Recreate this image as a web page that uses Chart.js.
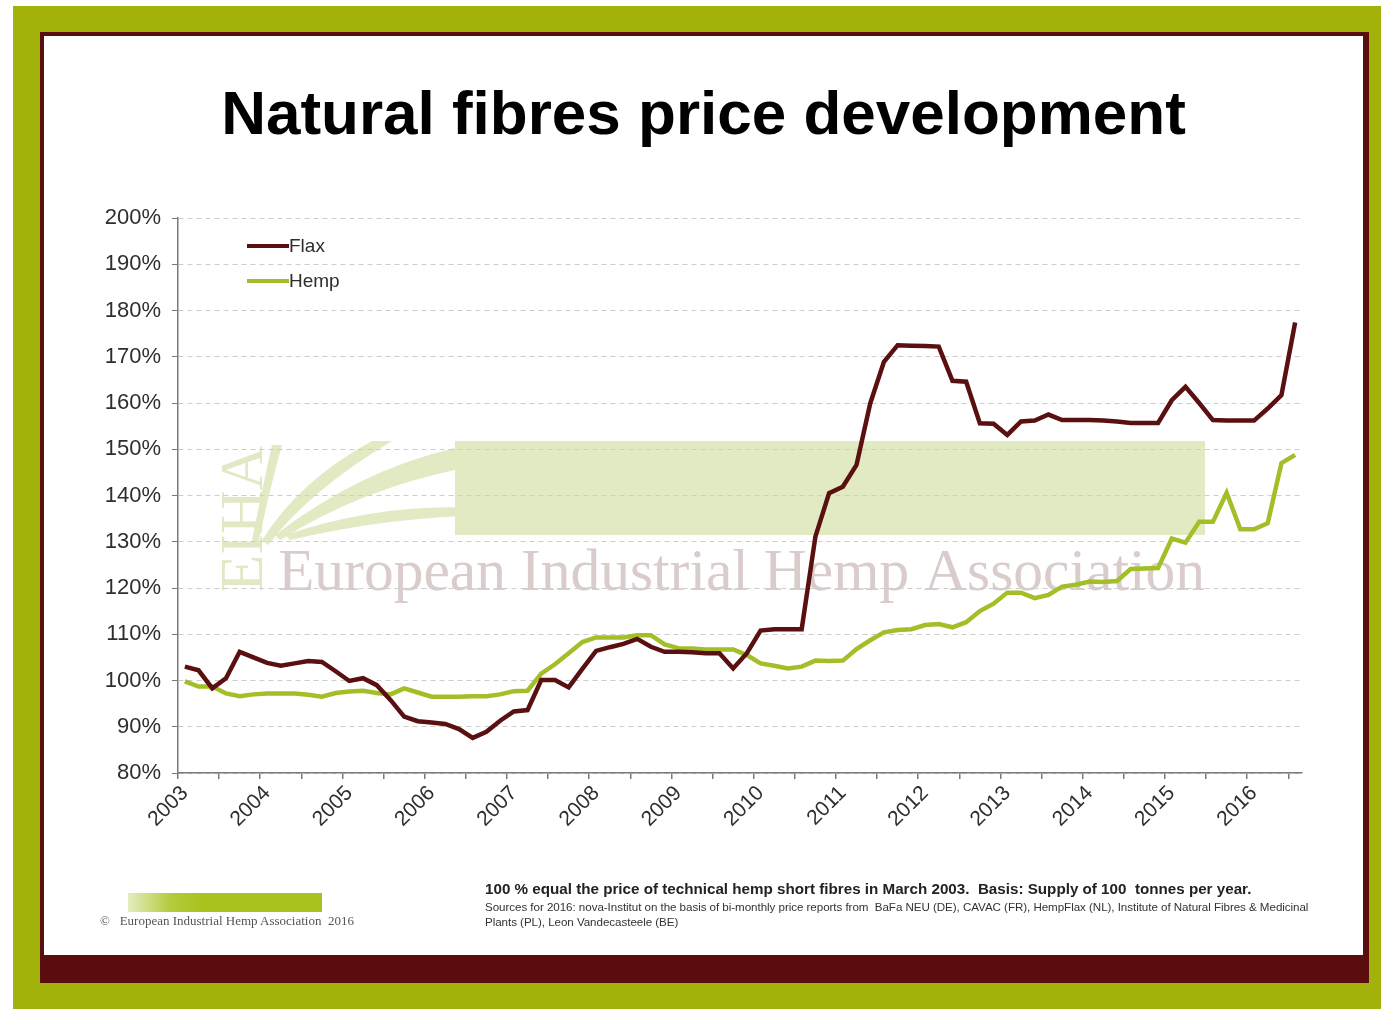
<!DOCTYPE html>
<html>
<head>
<meta charset="utf-8">
<title>Natural fibres price development</title>
<script src="https://cdn.jsdelivr.net/npm/chart.js@4/dist/chart.umd.min.js"></script>
<style>
  html, body { margin: 0; padding: 0; background: #ffffff; }
  body { width: 1381px; height: 1009px; position: relative; overflow: hidden; font-family: 'Liberation Sans', Arial, sans-serif; }
  .green { position: absolute; left: 13px; top: 6px; width: 1368px; height: 1003px; background: #a3b10b; }
  .frame { position: absolute; left: 40px; top: 32px; width: 1329px; height: 951px; background: #5b0c0c; }
  .panel { position: absolute; left: 44px; top: 36px; width: 1319px; height: 919px; background: #ffffff; }
  .title { position: absolute; left: 44px; width: 1319px; top: 77px; text-align: center; font-weight: bold; font-size: 62px; color: #000; }
  .note { position: absolute; left: 485px; top: 880px; color: #222; white-space: nowrap; }
  .note b { font-size: 15.2px; display: block; margin-bottom: 2px; }
  .note span { font-size: 11.6px; display: block; line-height: 15px; color: #333; letter-spacing: -0.05px; }
  .logo { position: absolute; left: 128px; top: 893px; width: 194px; height: 19px; background: linear-gradient(90deg, #e4edc0 0%, #b4cb3c 22%, #a9c21c 40%, #a9c21c 100%); }
  .logotext { position: absolute; left: 100px; top: 913px; font-family: 'Liberation Serif', serif; font-size: 13px; color: #555; white-space: nowrap; }
  canvas { position: absolute; left: 0; top: 0; }
</style>
</head>
<body>
<div class="green"></div>
<div class="frame"></div>
<div class="panel"></div>
<div class="title">Natural fibres price development</div>
<canvas id="chart" width="1381" height="1009"></canvas>
<div class="note">
  <b>100 % equal the price of technical hemp short fibres in March 2003.&nbsp; Basis: Supply of 100&nbsp; tonnes per year.</b>
  <span>Sources for 2016: nova-Institut on the basis of bi-monthly price reports from&nbsp; BaFa NEU (DE), CAVAC (FR), HempFlax (NL), Institute of Natural Fibres &amp; Medicinal<br>Plants (PL), Leon Vandecasteele (BE)</span>
</div>
<div class="logo"></div>
<div class="logotext">©&nbsp;&nbsp; European Industrial Hemp Association&nbsp; 2016</div>

<script>
// Year tick labels (one label every 6 bi-monthly periods)
const yearLabels = ['2003', '2004', '2005', '2006', '2007', '2008', '2009',
    '2010', '2011', '2012', '2013', '2014', '2015', '2016'];
const periodsPerYear = 6;

// Bi-monthly price index, % of hemp short fibre price in March 2003
const flaxValues = [
    103, 102.2, 98.3, 100.5, 106.2, 105, 103.8, 103.2, 103.7, 104.2,
    104, 102, 99.9, 100.5, 99, 95.8, 92.2, 91.2, 90.9, 90.6,
    89.5, 87.6, 88.9, 91.3, 93.3, 93.6, 100.1, 100.1, 98.5, 102.5,
    106.4, 107.2, 107.9, 109, 107.3, 106.2, 106.2, 106.1, 105.9, 105.9,
    102.6, 105.9, 110.8, 111.1, 111.1, 111.1, 131.1, 140.5, 141.9, 146.6,
    159.9, 168.9, 172.5, 172.4, 172.3, 172.2, 164.8, 164.6, 155.6, 155.5,
    153.1, 156, 156.2, 157.5, 156.3, 156.3, 156.3, 156.2, 156, 155.7,
    155.7, 155.7, 160.6, 163.5, 160, 156.3, 156.2, 156.2, 156.2, 158.8,
    161.7, 177.4
];
const hempValues = [
    99.8, 98.7, 98.7, 97.2, 96.6, 97, 97.2, 97.2, 97.2, 96.9,
    96.5, 97.3, 97.6, 97.8, 97.3, 97, 98.3, 97.4, 96.5, 96.5,
    96.5, 96.6, 96.6, 97, 97.7, 97.8, 101.5, 103.5, 105.9, 108.3,
    109.3, 109.3, 109.3, 109.8, 109.8, 107.8, 107, 106.9, 106.7, 106.7,
    106.7, 105.5, 103.7, 103.2, 102.6, 103, 104.3, 104.2, 104.3, 106.8,
    108.7, 110.4, 110.9, 111.1, 112, 112.2, 111.5, 112.6, 115, 116.6,
    119, 119, 117.8, 118.5, 120.3, 120.7, 121.4, 121.3, 121.5, 124.1,
    124.2, 124.3, 130.7, 129.8, 134.3, 134.3, 140.6, 132.7, 132.7, 134,
    147, 148.8
];

const Colors = {
    flax: '#5a0f10',
    hemp: '#a2bf28',
    grid: '#cdcdcd',
    axis: '#7a7a7a',
    text: '#2e2e2e',
    band: '#e1eac2',
};

// one category per bi-monthly report
const categories = flaxValues.map((_, i) =>
    yearLabels[Math.floor(i / periodsPerYear)] + '/' + (i % periodsPerYear + 1));

// EIHA watermark behind the plot
const watermarkPlugin = {
    id: 'watermark',
    beforeDraw(chart) {
        const c = chart.ctx;
        c.save();
        c.fillStyle = Colors.band;
        c.fillRect(455, 441, 750, 94);
        // leaf strokes fanning out from the lower left
        c.beginPath();
        c.moveTo(262, 540);
        c.quadraticCurveTo(300, 480, 372, 441);
        c.lineTo(392, 441);
        c.quadraticCurveTo(310, 490, 268, 545);
        c.closePath();
        c.fill();
        c.beginPath();
        c.moveTo(275, 535);
        c.quadraticCurveTo(360, 470, 455, 448);
        c.lineTo(455, 470);
        c.quadraticCurveTo(360, 490, 280, 540);
        c.closePath();
        c.fill();
        c.beginPath();
        c.moveTo(285, 535);
        c.quadraticCurveTo(420, 490, 550, 518);
        c.quadraticCurveTo(430, 508, 290, 540);
        c.closePath();
        c.fill();
        c.beginPath();
        c.moveTo(252, 540);
        c.quadraticCurveTo(262, 490, 272, 445);
        c.lineTo(282, 445);
        c.quadraticCurveTo(268, 495, 258, 545);
        c.closePath();
        c.fill();
        // vertical EIHA letters
        c.save();
        c.translate(262, 592);
        c.rotate(-Math.PI / 2);
        c.font = '50px "Liberation Serif", serif';
        const lw = c.measureText('EIHA').width;
        c.font = (50 * 146 / lw) + 'px "Liberation Serif", serif';
        c.fillStyle = '#e0e9c4';
        c.fillText('EIHA', 0, 0);
        c.restore();
        // association name
        const name = 'European Industrial Hemp Association';
        c.font = '52px "Liberation Serif", serif';
        const w = c.measureText(name).width;
        c.font = (52 * 927 / w) + 'px "Liberation Serif", serif';
        c.fillStyle = '#dbcccc';
        c.fillText(name, 278, 590);
        c.restore();
    }
};

// Legend drawn inside the plot, top left
const insideLegend = {
    id: 'insideLegend',
    afterDatasetsDraw(chart) {
        const c = chart.ctx;
        const area = chart.chartArea;
        c.save();
        c.font = '19px "Liberation Sans", Arial, sans-serif';
        c.textBaseline = 'middle';
        chart.data.datasets.forEach((ds, i) => {
            const y = area.top + 28 + i * 35;
            const x = area.left + 69;
            c.strokeStyle = ds.borderColor;
            c.lineWidth = 4;
            c.beginPath();
            c.moveTo(x, y);
            c.lineTo(x + 42, y);
            c.stroke();
            c.fillStyle = Colors.text;
            c.fillText(ds.label, x + 42, y + 1);
        });
        c.restore();
    }
};

const ctx = document.getElementById('chart');
new Chart(ctx, {
    type: 'line',
    data: {
        labels: categories,
        datasets: [
            { label: 'Flax', data: flaxValues, borderColor: Colors.flax, borderWidth: 4.5, pointRadius: 0, tension: 0 },
            { label: 'Hemp', data: hempValues, borderColor: Colors.hemp, borderWidth: 4.5, pointRadius: 0, tension: 0 },
        ]
    },
    options: {
        responsive: false,
        animation: false,
        layout: { padding: { left: 78, top: 218, right: 79, bottom: 166 } },
        plugins: {
            legend: { display: false },
            tooltip: { enabled: false },
        },
        scales: {
            x: {
                offset: true,
                afterFit: (s) => { s.height = 70; },
                grid: {
                    offset: true,
                    drawOnChartArea: false,
                    tickLength: 6,
                    lineWidth: 1.5,
                    color: (c) => (c.index !== undefined && c.index % 3 === 0) ? Colors.axis : 'rgba(0,0,0,0)',
                },
                border: { color: Colors.axis, width: 1.5 },
                ticks: {
                    autoSkip: false,
                    minRotation: 45,
                    maxRotation: 45,
                    padding: 2,
                    color: Colors.text,
                    font: { family: "'Liberation Sans', Arial, sans-serif", size: 21 },
                    callback: (v, i) => i % periodsPerYear === 0 ? yearLabels[i / periodsPerYear] : '',
                },
            },
            y: {
                min: 80,
                max: 200,
                afterFit: (s) => { s.width = 100; },
                grid: { color: Colors.grid, lineWidth: 1, tickLength: 6, tickColor: Colors.axis },
                border: { color: Colors.axis, width: 1.5, dash: [5, 4] },
                ticks: {
                    stepSize: 10,
                    padding: 11,
                    color: Colors.text,
                    font: { family: "'Liberation Sans', Arial, sans-serif", size: 22 },
                    callback: (v) => v + '%',
                },
            },
        },
    },
    plugins: [watermarkPlugin, insideLegend],
});
</script>
</body>
</html>
